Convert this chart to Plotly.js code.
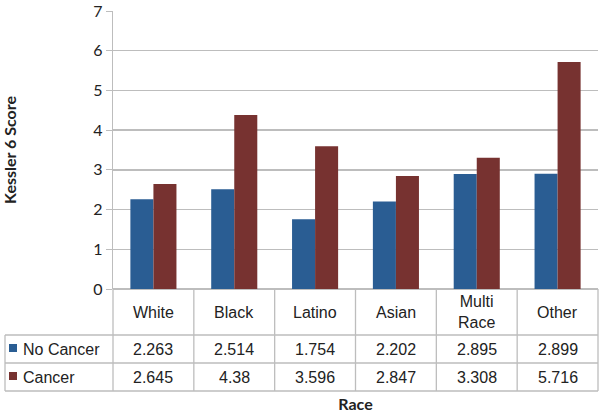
<!DOCTYPE html>
<html><head><meta charset="utf-8">
<script src="https://cdn.plot.ly/plotly-3.0.1.min.js"></script>
<style>body{margin:0;background:#fff}#c{width:600px;height:413px}</style>
</head><body><div id="c"></div>
<script>
const categories = ['White','Black','Latino','Asian','Multi Race','Other'];
const headerLabels = ['White','Black','Latino','Asian','Multi<br>Race','Other'];
const noCancer = [2.263, 2.514, 1.754, 2.202, 2.895, 2.899];
const cancer = [2.645, 4.38, 3.596, 2.847, 3.308, 5.716];
const seriesNames = ['No Cancer','Cancer'];
const colors = ['#2A5D93','#773230'];

const L = 113, R = 598, T = 11, B = 289, W = 600, H = 413;
const pw = R - L, ph = B - T;
const px = x => (x - L) / pw;
const py = y => (B - y) / ph;

const gridC = '#BDBDBD';
const tableC = '#BDBDBD';
const shapes = [];
const line = (x0,y0,x1,y1) => shapes.push({type:'line',xref:'paper',yref:'paper',x0:px(x0),y0:py(y0),x1:px(x1),y1:py(y1),line:{color:tableC,width:1.3}});
const rowY = [335, 363, 391];
rowY.forEach(y => line(5, y, R, y));
line(5, 335, 5, 391);
const n = categories.length;
for (let i = 0; i <= n; i++) {
  const x = L + pw * i / n;
  line(x, B, x, 391);
}
const seriesVals = [noCancer, cancer];
const annotations = [];
const tf = {family:'Liberation Sans, Arial, sans-serif', size:16, color:'#222'};
categories.forEach((c, i) => {
  annotations.push({xref:'x', yref:'paper', x:c, y:py(312), text:headerLabels[i], showarrow:false, font:tf, xanchor:'center', yanchor:'middle'});
  seriesVals.forEach((vals, s) => {
    annotations.push({xref:'x', yref:'paper', x:c, y:py(349 + s*28), text:String(vals[i]), showarrow:false, font:tf, xanchor:'center', yanchor:'middle'});
  });
});
seriesNames.forEach((nm, s) => {
  const yc = 349 + s*28;
  shapes.push({type:'rect',xref:'paper',yref:'paper',x0:px(9),x1:px(17),y0:py(yc-5),y1:py(yc+3),fillcolor:colors[s],line:{width:0}});
  annotations.push({xref:'paper', yref:'paper', x:px(21), y:py(yc), text:nm, showarrow:false, font:tf, xanchor:'left', yanchor:'middle'});
});

const traces = seriesVals.map((vals, s) => ({
  type:'bar', x:categories, y:vals, name:seriesNames[s], marker:{color:colors[s]}, hoverinfo:'y'
}));

const layout = {
  width:W, height:H, margin:{l:L, r:W-R, t:T, b:H-B},
  paper_bgcolor:'#fff', plot_bgcolor:'#fff',
  showlegend:false, barmode:'group', bargap:0.43, bargroupgap:0,
  font:{family:'Lato, Open Sans, sans-serif', color:'#222'},
  xaxis:{type:'category', showticklabels:false, ticks:'', showgrid:false, zeroline:false,
    showline:false, fixedrange:true,
    title:{text:'<b>Race</b>', font:{family:'Lato, sans-serif', size:16, color:'#222'}, standoff:109}},
  yaxis:{range:[0,7], dtick:1, tickvals:[0,1,2,3,4,5,6,7], showgrid:true, gridcolor:gridC, gridwidth:1.3,
    zeroline:true, zerolinecolor:gridC, zerolinewidth:1.3,
    showline:true, linecolor:gridC, linewidth:1.3, ticks:'outside', ticklen:6, tickcolor:gridC,
    ticklabeloverflow:'allow',
    tickfont:{family:'Lato, Open Sans, sans-serif', size:16, color:'#222'},
    title:{text:'<b>Kessler 6 Score</b>', font:{family:'Lato, sans-serif', size:16, color:'#222'}, standoff:72}},
  shapes:shapes, annotations:annotations
};
Plotly.newPlot('c', traces, layout, {displayModeBar:false, staticPlot:true});
</script></body></html>
